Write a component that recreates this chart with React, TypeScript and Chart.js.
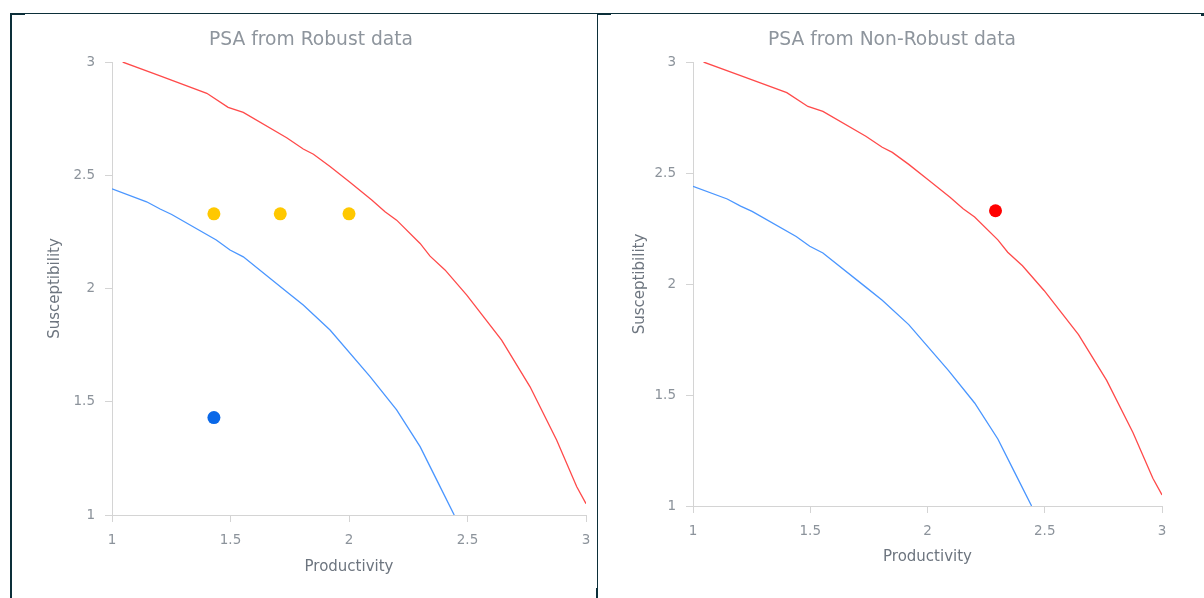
import React, { useEffect, useRef } from "react";
import { Chart, registerables } from "chart.js";

Chart.register(...registerables);

// Upper (high vulnerability) threshold curve: productivity / susceptibility pairs
const highCurveP = [1.045, 1.2, 1.4, 1.49, 1.554, 1.737, 1.807, 1.85, 1.92, 2.004, 2.096, 2.152, 2.201, 2.3, 2.342, 2.405, 2.497, 2.644, 2.764, 2.876, 2.961, 3.0];
const highCurveS = [3.0, 2.94, 2.862, 2.8, 2.778, 2.666, 2.616, 2.593, 2.539, 2.469, 2.391, 2.339, 2.302, 2.199, 2.143, 2.082, 1.971, 1.772, 1.566, 1.331, 1.125, 1.05];

// Lower (low vulnerability) threshold curve
const lowCurveP = [1.0, 1.146, 1.203, 1.252, 1.44, 1.498, 1.554, 1.737, 1.807, 1.92, 2.089, 2.201, 2.3, 2.37, 2.444];
const lowCurveS = [2.44, 2.383, 2.351, 2.327, 2.214, 2.17, 2.14, 1.986, 1.927, 1.817, 1.611, 1.464, 1.302, 1.155, 1.0];

// Stocks scored from robust data
const robustMidP = [1.43, 1.71, 2.0];
const robustMidS = [2.33, 2.33, 2.33];
const robustLowP = [1.43];
const robustLowS = [1.43];

// Stock scored from non-robust data
const nonRobustP = [2.29];
const nonRobustS = [2.33];

const FONT = "'DejaVu Sans', Verdana, sans-serif";
const TICK_COLOR = "#8c939b";
const AXIS_LINE = "#d4d4d4";

const toXY = (xs: number[], ys: number[]) => xs.map((x, i) => ({ x, y: ys[i] }));

type PointSet = { xs: number[]; ys: number[]; color: string };

type PanelProps = {
  title: string;
  points: PointSet[];
  width: number;
  height: number;
  padLeft: number;
  padRight: number;
  padBottom: number;
  yAxisWidth: number;
  yTitlePad: number;
  xTitlePad: number;
};

function PsaPanel(props: PanelProps) {
  const ref = useRef<HTMLCanvasElement | null>(null);

  useEffect(() => {
    if (!ref.current) return;
    const axisBase = (titleText: string) => ({
      type: "linear" as const,
      min: 1,
      max: 3,
      ticks: {
        stepSize: 0.5,
        color: TICK_COLOR,
        padding: 10,
        font: { family: FONT, size: 13.5 },
        callback: (v: number | string) => String(Number(v)),
      },
      grid: {
        drawOnChartArea: false,
        drawTicks: true,
        tickLength: 7,
        color: AXIS_LINE,
      },
      border: { color: AXIS_LINE, width: 1 },
      title: {
        display: true,
        text: titleText,
        color: "#6d757f",
        font: { family: FONT, size: 15 },
      },
    });

    const xAxis: any = axisBase("Productivity");
    xAxis.title.padding = { top: 0, bottom: props.xTitlePad };
    xAxis.afterFit = (scale: any) => {
      scale.height = 70;
      scale.paddingLeft = 0;
      scale.paddingRight = 0;
    };
    const yAxis: any = axisBase("Susceptibility");
    yAxis.title.padding = { top: props.yTitlePad, bottom: 0 };
    yAxis.afterFit = (scale: any) => {
      scale.width = props.yAxisWidth;
      scale.paddingTop = 0;
      scale.paddingBottom = 0;
    };

    const pointSets = props.points.map((p) => ({
      data: toXY(p.xs, p.ys),
      showLine: false,
      pointRadius: 6.5,
      pointHoverRadius: 6.5,
      pointBorderWidth: 0,
      backgroundColor: p.color,
      borderColor: p.color,
      order: 0,
    }));

    const chart = new Chart(ref.current, {
      type: "scatter",
      data: {
        datasets: [
          ...pointSets,
          {
            data: toXY(highCurveP, highCurveS),
            showLine: true,
            borderColor: "#ff4a4a",
            borderWidth: 1.3,
            pointRadius: 0,
            tension: 0,
            order: 1,
          },
          {
            data: toXY(lowCurveP, lowCurveS),
            showLine: true,
            borderColor: "#4a96ff",
            borderWidth: 1.3,
            pointRadius: 0,
            tension: 0,
            order: 1,
          },
        ],
      },
      options: {
        responsive: false,
        animation: false,
        devicePixelRatio: 1,
        layout: {
          padding: {
            left: props.padLeft,
            right: props.padRight,
            top: 0,
            bottom: props.padBottom,
          },
        },
        plugins: {
          legend: { display: false },
          tooltip: { enabled: false },
          title: {
            display: true,
            text: props.title,
            color: "#8e959d",
            font: { family: FONT, size: 18.7, weight: "normal" },
            padding: { top: 15, bottom: 10.6 },
          },
        },
        scales: { x: xAxis, y: yAxis },
      },
    });
    return () => chart.destroy();
  }, []);

  return <canvas ref={ref} width={props.width} height={props.height} style={{ display: "block" }} />;
}

const FRAME = "#0c2f39";

export default function App() {
  const line = (left: number, top: number, width: number, height: number) => (
    <div style={{ position: "absolute", left, top, width, height, background: FRAME }} />
  );
  return (
    <div style={{ position: "absolute", left: 0, top: 0, width: 1204, height: 598, background: "#fff", overflow: "hidden" }}>
      {line(10, 13, 1191, 1)}
      {line(10, 13, 2, 585)}
      {line(597, 13, 1, 585)}
      {line(10, 13, 15, 2)}
      {line(597, 13, 14, 2)}
      {line(1201, 13, 3, 3)}
      {line(596, 588, 2, 10)}
      <div style={{ position: "absolute", left: 12, top: 14 }}>
        <PsaPanel
          title="PSA from Robust data"
          points={[
            { xs: robustMidP, ys: robustMidS, color: "#ffc800" },
            { xs: robustLowP, ys: robustLowS, color: "#0a68e8" },
          ]}
          width={584}
          height={584}
          padLeft={24}
          padRight={10}
          padBottom={13}
          yAxisWidth={76}
          yTitlePad={10}
          xTitlePad={9}
        />
      </div>
      <div style={{ position: "absolute", left: 598, top: 14 }}>
        <PsaPanel
          title="PSA from Non-Robust data"
          points={[{ xs: nonRobustP, ys: nonRobustS, color: "#ff0000" }]}
          width={606}
          height={584}
          padLeft={24}
          padRight={42}
          padBottom={22}
          yAxisWidth={71}
          yTitlePad={9}
          xTitlePad={10}
        />
      </div>
    </div>
  );
}
